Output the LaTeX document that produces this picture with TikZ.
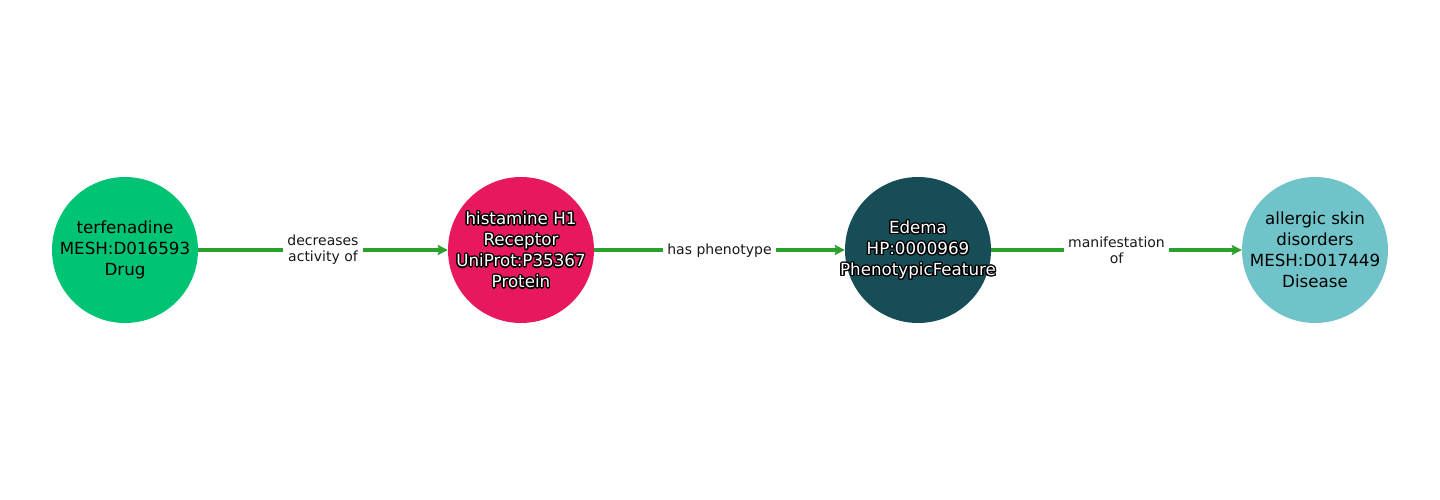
\documentclass[tikz,border=0pt]{standalone}
\usepackage{fontspec}
\setmainfont{DejaVu Sans}
\usetikzlibrary{arrows.meta}
\definecolor{cdrug}{HTML}{00C373}
\definecolor{cprot}{HTML}{E8185F}
\definecolor{cphen}{HTML}{174D57}
\definecolor{cdis}{HTML}{70C4C9}
\definecolor{cedge}{HTML}{2CA02C}
\tikzset{
 ent/.style={circle, minimum size=146pt, inner sep=0pt, draw=none},
 lbl/.style={align=center, font=\fontsize{16.7}{21}\selectfont, inner sep=0pt},
 elbl/.style={fill=white, align=center, font=\fontsize{14}{16}\selectfont, inner sep=4pt, text=black!90},
 rel/.style={draw=cedge, line width=3.2pt, -{Stealth[length=10pt,width=10pt,inset=1.5pt]}}
}
\begin{document}
\begin{tikzpicture}[x=1pt,y=-1pt]
\useasboundingbox (0,0) rectangle (1440,500);
\node[ent, fill=cdrug] (n1) at (125,250) {};
\node[ent, fill=cprot] (n2) at (521,250) {};
\node[ent, fill=cphen] (n3) at (918,250) {};
\node[ent, fill=cdis] (n4) at (1315,250) {};
\draw[rel] (n1) -- node[elbl] (e1) {decreases\\activity of} (n2);
\draw[rel] (n2) -- node[elbl, yshift=-1pt] (e2) {has phenotype} (n3);
\draw[rel] (n3) -- node[elbl] (e3) {manifestation\\of} (n4);
\node[lbl, text=black] (t1) at (n1) {terfenadine\\MESH:D016593\\Drug};
\foreach \a [count=\i] in {0,22.5,...,337.5} {
  \node[lbl, text=black, xshift={1.3*cos(\a)}, yshift={1.3*sin(\a)}] (o2\i) at (n2) {histamine H1\\Receptor\\UniProt:P35367\\Protein};
  \node[lbl, text=black, xshift={1.3*cos(\a)}, yshift={1.3*sin(\a)}] (o3\i) at (n3) {Edema\\HP:0000969\\PhenotypicFeature};
}
\node[lbl, text=white] (t2) at (n2) {histamine H1\\Receptor\\UniProt:P35367\\Protein};
\node[lbl, text=white] (t3) at (n3) {Edema\\HP:0000969\\PhenotypicFeature};
\node[lbl, text=black] (t4) at (n4) {allergic skin\\disorders\\MESH:D017449\\Disease};
\end{tikzpicture}
\end{document}
